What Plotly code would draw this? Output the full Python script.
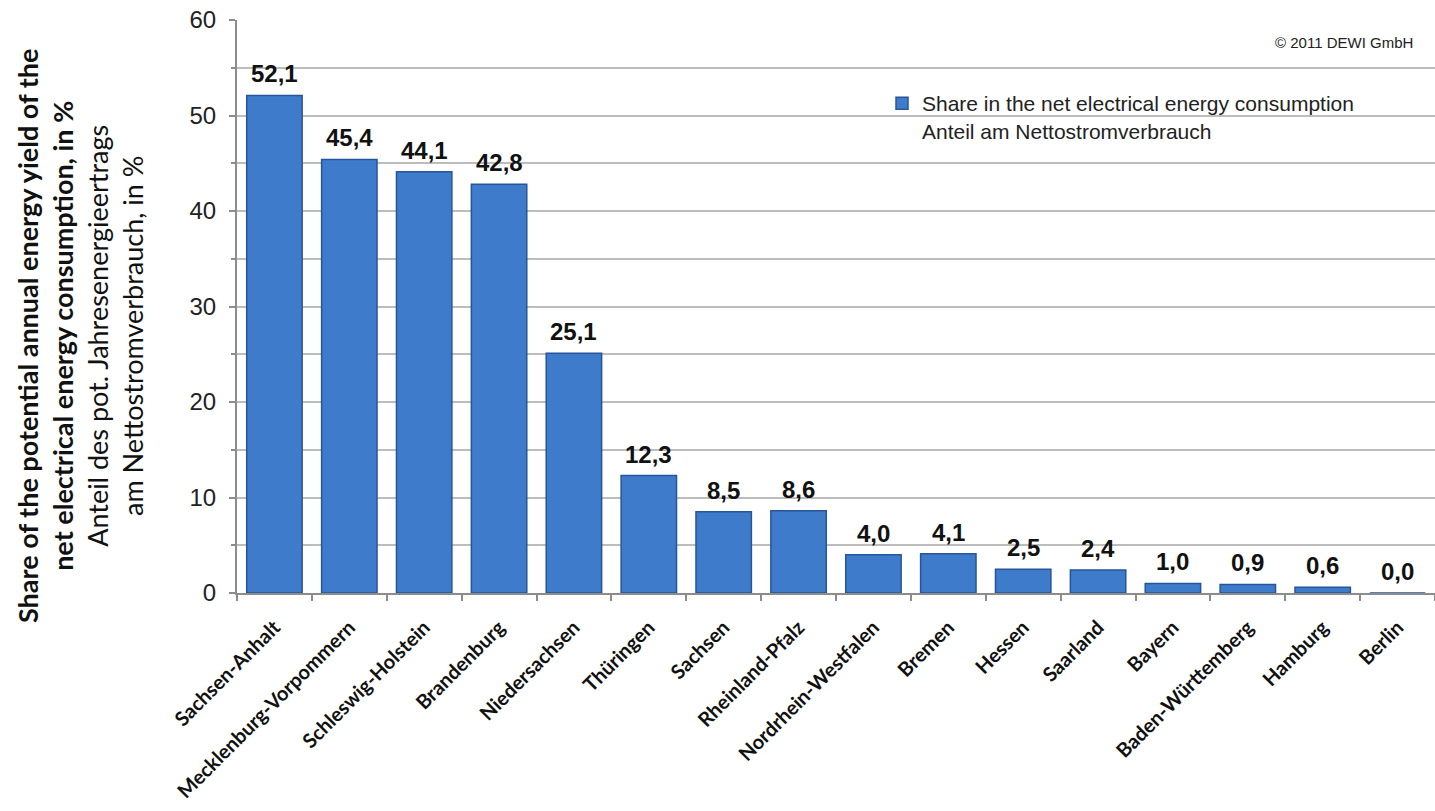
import plotly.graph_objects as go

states = ["Sachsen-Anhalt", "Mecklenburg-Vorpommern", "Schleswig-Holstein", "Brandenburg",
          "Niedersachsen", "Thüringen", "Sachsen", "Rheinland-Pfalz", "Nordrhein-Westfalen",
          "Bremen", "Hessen", "Saarland", "Bayern", "Baden-Württemberg", "Hamburg", "Berlin"]
share = [52.1, 45.4, 44.1, 42.8, 25.1, 12.3, 8.5, 8.6, 4.0, 4.1, 2.5, 2.4, 1.0, 0.9, 0.6, 0.0]
labels = [f"{v:.1f}".replace(".", ",") for v in share]
y_ticks = [0, 10, 20, 30, 40, 50, 60]

L, R, T, B = 237, 0, 20, 218
W, H = 1435, 811
pw, ph = W - L - R, H - T - B

fig = go.Figure()
fig.add_trace(go.Bar(
    x=states, y=share,
    marker=dict(color="#3E7BCB", line=dict(color="#27559A", width=1.5)),
    name="Share in the net electrical energy consumption<br>Anteil am Nettostromverbrauch",
    showlegend=True, cliponaxis=False,
))

for s, v, t in zip(states, share, labels):
    fig.add_annotation(
        x=s, y=v, xref="x", yref="y", text=f"<b>{t}</b>", showarrow=False,
        yanchor="bottom", yshift=6,
        font=dict(family="Liberation Sans Narrow, Arial Narrow, Arial", size=24, color="#111111"),
    )

fig.update_layout(
    width=W, height=H,
    margin=dict(l=L, r=R, t=T, b=B),
    plot_bgcolor="white", paper_bgcolor="white",
    bargap=0.26,
    showlegend=True,
    legend=dict(x=(882 - L) / pw, y=(593 - 83) / ph, xanchor="left", yanchor="top",
                font=dict(family="Liberation Sans Narrow, Arial Narrow, Arial", size=21, color="#222222"),
                bgcolor="rgba(0,0,0,0)", valign="top", itemwidth=30),
    xaxis=dict(
        tickangle=-45, automargin=False,
        tickfont=dict(family="Lato, Carlito, Calibri", size=20, color="#111111", weight="bold"),
        ticklabelstandoff=13,
        showline=True, linecolor="#8C8C8C", linewidth=2,
        ticks="outside", tickson="boundaries", ticklen=6, tickcolor="#8C8C8C", tickwidth=1.5,
        showgrid=False,
    ),
    yaxis=dict(
        range=[0, 60], tickvals=y_ticks, automargin=False,
        tickfont=dict(family="Liberation Sans, Arial", size=24, color="#222222"),
        ticklabelstandoff=8,
        showline=True, linecolor="#8C8C8C", linewidth=2,
        ticks="outside", ticklen=6, tickcolor="#8C8C8C", tickwidth=1.5,
        showgrid=True, gridcolor="#BDBDBD", gridwidth=1.5,
        minor=dict(dtick=5, showgrid=True, gridcolor="#BDBDBD", gridwidth=1.5,
                   ticks="outside", ticklen=4, tickcolor="#8C8C8C"),
        zeroline=False,
    ),
)

fig.add_annotation(
    xref="paper", yref="paper", x=(80 - L) / pw, y=(593 - 336) / ph,
    xanchor="center", yanchor="middle", textangle=-90, showarrow=False,
    text=("<b>Share of the potential annual energy yield of the</b><br>"
          "<b>net electrical energy consumption, in %</b><br>"
          "Anteil des pot. Jahresenergieertrags<br>am Nettostromverbrauch, in %"),
    font=dict(family="Lato, Carlito, Calibri", size=27, color="#111111"),
)
fig.add_annotation(
    xref="paper", yref="paper", x=(1415 - L) / pw, y=(593 - 43) / ph,
    xanchor="right", yanchor="middle", showarrow=False,
    text="© 2011 DEWI GmbH",
    font=dict(family="Liberation Sans Narrow, Arial", size=15, color="#222222"),
)

fig.write_html("out.html")
